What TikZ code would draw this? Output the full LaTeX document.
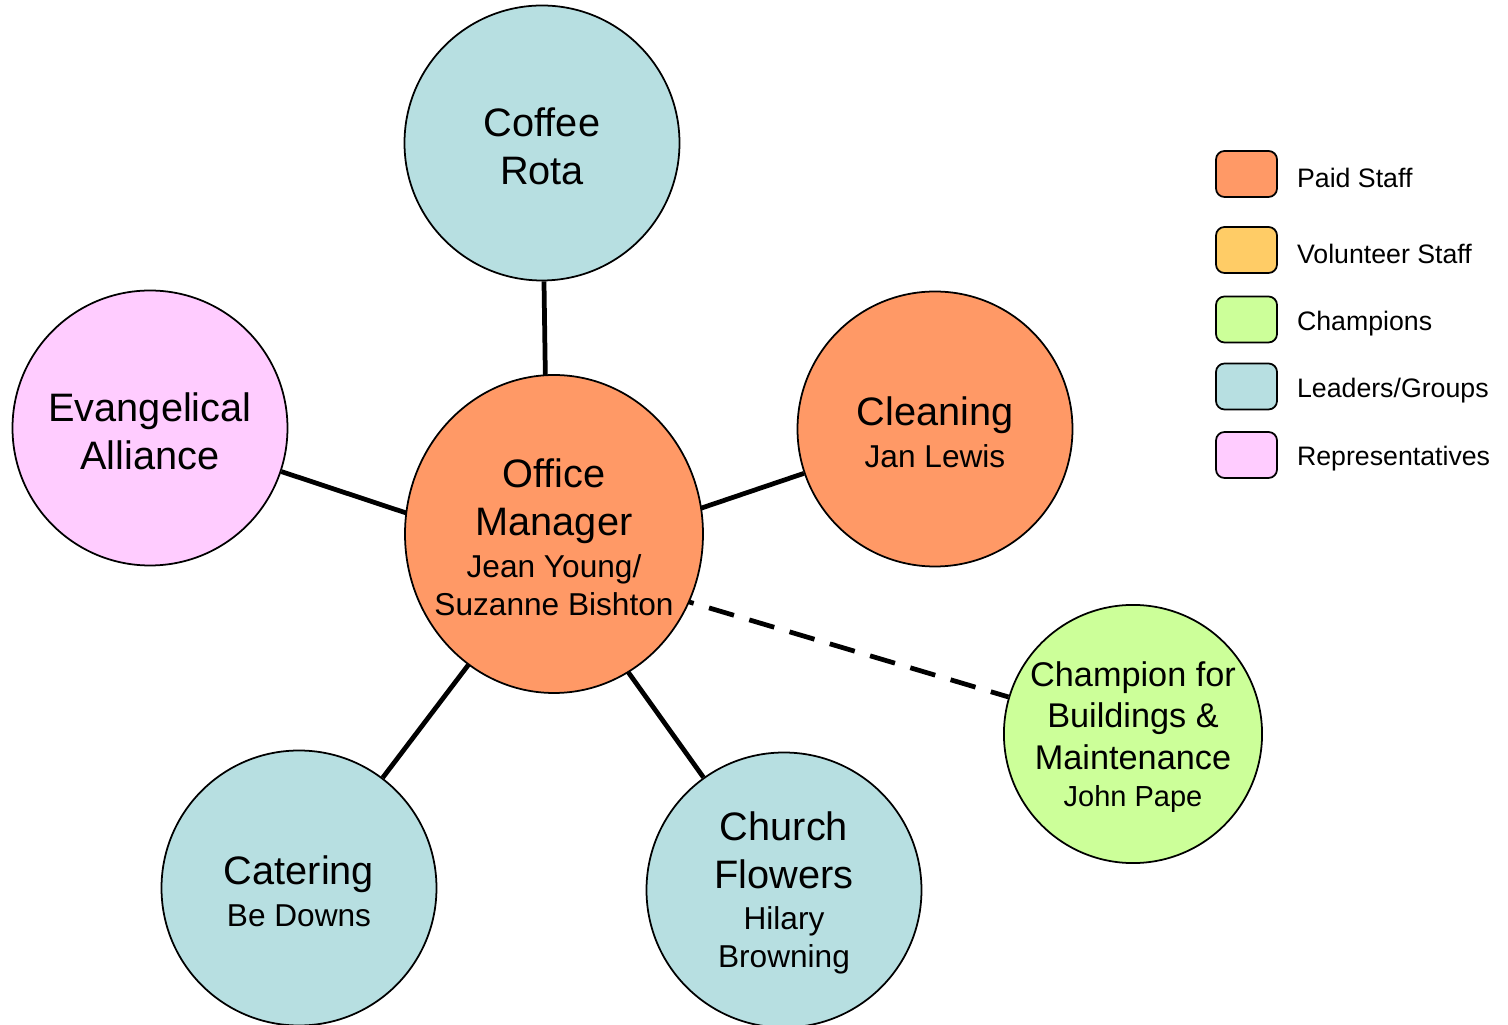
\documentclass[tikz,border=0pt]{standalone}
\usepackage{fontspec}
\setmainfont{Liberation Sans}
\usetikzlibrary{positioning,shapes.geometric,backgrounds}
\definecolor{paid}{RGB}{255,153,102}
\definecolor{volunteer}{RGB}{255,204,102}
\definecolor{champion}{RGB}{204,255,153}
\definecolor{leader}{RGB}{183,223,225}
\definecolor{rep}{RGB}{255,204,255}
\newcommand*\personfont{\fontsize{18}{21.2}\selectfont}
\newcommand*\topstrut{\rule{0pt}{0.885em}}

\begin{document}
\begin{tikzpicture}[node distance=1.4cm,on grid,
    group/.style={circle,draw,line width=1pt,minimum size=5.5cm,inner sep=0pt,align=center,
      font=\fontsize{22.6}{27.2}\selectfont},
    key/.style={draw,line width=1pt,rounded corners=0.17cm,minimum width=1.22cm,minimum height=0.92cm},
    keytext/.style={anchor=west,yshift=-0.08cm,font=\fontsize{15.2}{18}\selectfont},
    link/.style={line width=2.7pt}]
  \useasboundingbox (-11.08,-9.82) rectangle (19.08,10.68);

  \node[group,ellipse,fill=paid,inner sep=-0.7cm,minimum width=5.96cm,minimum height=6.36cm] (office)
    {\topstrut Office\\Manager\\[-3.6pt]\personfont Jean Young/\\[-5.6pt]\personfont Suzanne Bishton};
  \coordinate (hub) at ([shift={(-0.12cm,-0.52cm)}]office.center);
  \node[group,fill=leader]   (coffee)  [above left=7.82cm and 0.24cm of office] {\topstrut Coffee\\Rota};
  \node[group,fill=rep]      (evang)   [above left=2.12cm and 8.08cm of office] {\topstrut Evangelical\\Alliance};
  \node[group,fill=paid]     (clean)   [above right=2.1cm and 7.62cm of office] {\topstrut Cleaning\\[-3.6pt]\personfont Jan Lewis};
  \node[group,fill=champion,minimum size=5.16cm,font=\fontsize{19.5}{23.8}\selectfont]
                             (champ)   [below right=4cm and 11.58cm of office]
                             {\topstrut Champion for\\Buildings \&\\Maintenance\\[-3pt]\fontsize{16.5}{19.5}\selectfont John Pape};
  \node[group,fill=leader]   (cater)   [below left=7.08cm and 5.1cm of office] {\topstrut Catering\\[-3.6pt]\personfont Be Downs};
  \node[group,fill=leader]   (flowers) [below right=7.12cm and 4.6cm of office]
                             {\topstrut Church\\Flowers\\[-3.6pt]\personfont Hilary\\[-5.6pt]\personfont Browning};

  \begin{scope}[on background layer]
    \path[link] (hub) edge (coffee)
                      edge (evang)
                      edge (clean)
                      edge (cater)
                      edge (flowers)
                      edge [dash pattern=on 0.52cm off 0.32cm] (champ);
  \end{scope}

  % legend
  \node[key,fill=paid]      (k_paid)  at (13.85,7.2) {};
  \node[key,fill=volunteer] (k_vol)   [below=1.52cm of k_paid] {};
  \node[key,fill=champion]  (k_champ) [below=1.39cm of k_vol] {};
  \node[key,fill=leader]    (k_lead)  [below=1.34cm of k_champ] {};
  \node[key,fill=rep]       (k_rep)   [below=1.37cm of k_lead] {};
  \node (t_paid)  [right=0.26cm of k_paid.east,keytext]  {Paid Staff};
  \node (t_vol)   [right=0.26cm of k_vol.east,keytext]   {Volunteer Staff};
  \node (t_champ) [right=0.26cm of k_champ.east,keytext] {Champions};
  \node (t_lead)  [right=0.26cm of k_lead.east,keytext]  {Leaders/Groups};
  \node (t_rep)   [right=0.26cm of k_rep.east,keytext]   {Representatives};
\end{tikzpicture}
\end{document}
